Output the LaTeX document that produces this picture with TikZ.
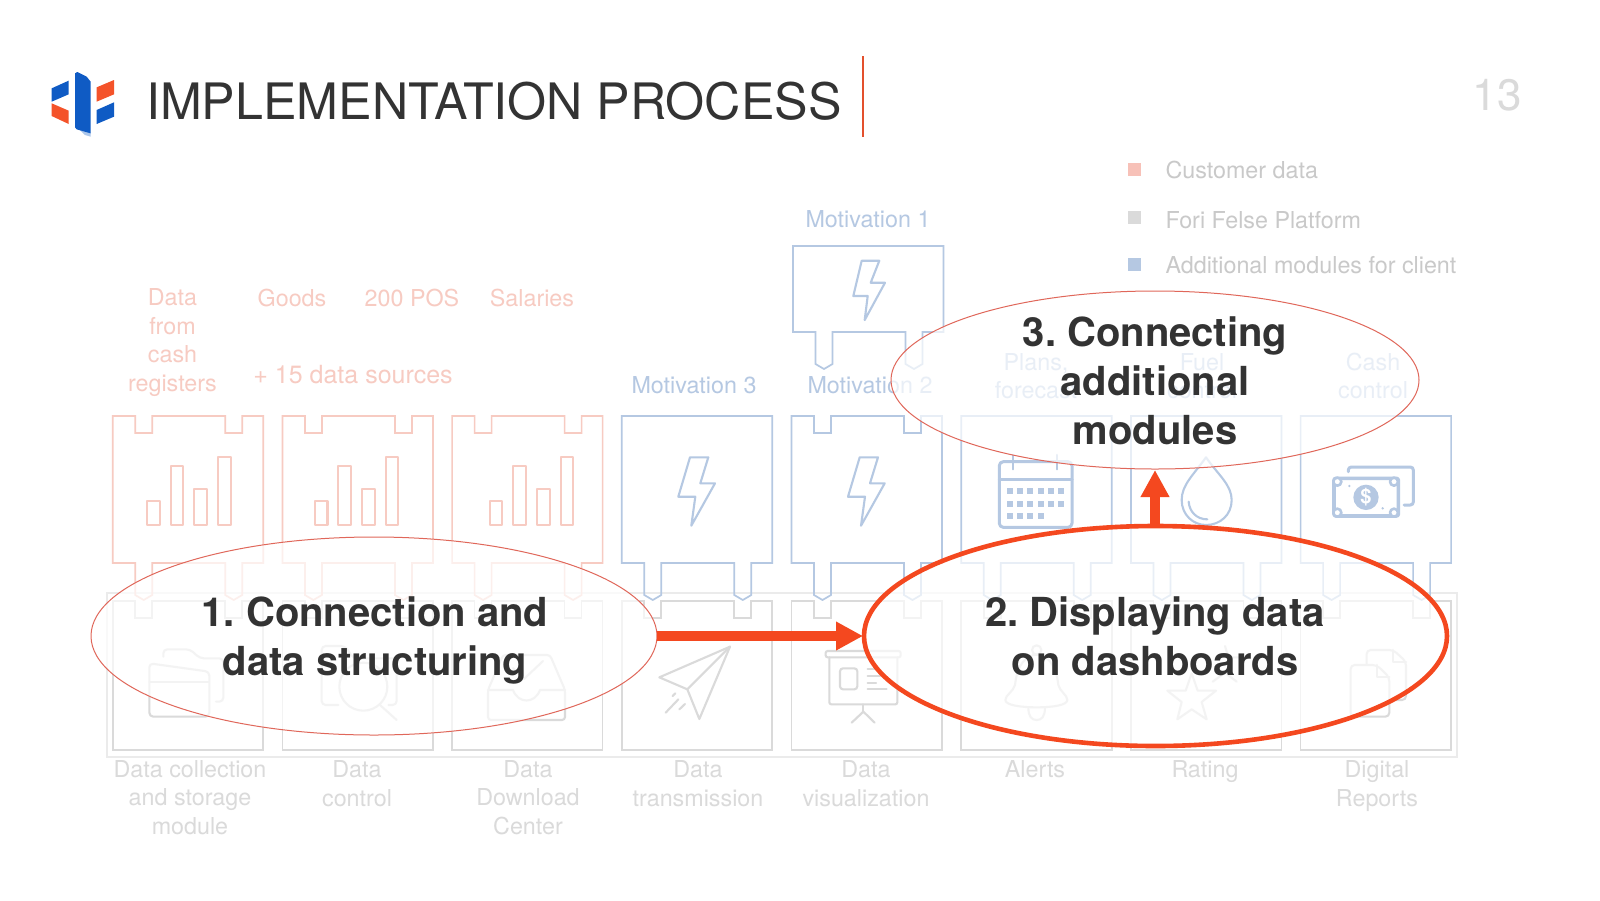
\documentclass[tikz,border=0pt]{standalone}
\usepackage{fontspec}
\setmainfont{TeX Gyre Heros}
\usetikzlibrary{shapes.geometric,arrows.meta}
\frenchspacing
\definecolor{cred}{HTML}{F7CBC2}
\definecolor{cblue}{HTML}{B5C8E2}
\definecolor{cgray}{HTML}{DADADA}
\definecolor{cframe}{HTML}{EBEBEB}
\definecolor{cacc}{HTML}{F4481F}
\definecolor{cthin}{HTML}{E0675A}
\definecolor{cdark}{HTML}{333333}
\definecolor{lgblue}{HTML}{0F5BC4}
\definecolor{lgorange}{HTML}{F4532A}
\definecolor{lgtext}{HTML}{C9C9C9}
\newcommand\topN{(0,0)--(22.5,0)--(22.5,17)--(39.5,17)--(39.5,0)--(112.5,0)--(112.5,17)--(129.5,17)--(129.5,0)--(150.5,0)}
\newcommand\topP{(0,0)--(150.5,0)}
\newcommand\botT[1]{--(150.5,#1)--(129.5,#1)--(129.5,#1+32)--(121,#1+37)--(112.5,#1+32)--(112.5,#1)--(39.5,#1)--(39.5,#1+32)--(31,#1+37)--(22.5,#1+32)--(22.5,#1)--(0,#1)--cycle}
\newcommand\bolt{(68.2,41.3)--(86.5,41.3)--(78.5,67.3)--(93.2,67.3)--(69.5,109.7)--(73.5,80.7)--(56.5,80.7)--cycle}
\tikzset{
  x=1pt,y=-1pt,
  boxline/.style={line width=1.7pt,line join=miter},
  icon/.style={line width=2.1pt,line join=round,line cap=round},
  zoomed/.style n args={2}{shift={(#1,#2)},x=0.33333pt,y=-0.33333pt},
  lab/.style={anchor=base,align=center,inner sep=0pt,outer sep=0pt,font=\fontsize{23.3}{28.4}\selectfont},
  redlab/.style={lab,text=cred},
  bluelab/.style={lab,text=cblue},
  graylab/.style={lab,text=cgray},
  legendlab/.style={lab,anchor=base west,text=lgtext},
  legendsq/.style={minimum size=13pt,inner sep=0pt,outer sep=0pt,anchor=north west},
  oval/.style={ellipse,inner sep=0pt,outer sep=0pt,fill=white,fill opacity=0.7,text opacity=1},
  boldlab/.style={anchor=base,align=center,inner sep=0pt,outer sep=0pt,text=cdark,font=\fontsize{40}{48.7}\selectfont\bfseries},
  flow/.style={draw=cacc,line width=10.5pt,-{Triangle[length=27pt,width=27pt]}},
}
\begin{document}
\begin{tikzpicture}[x=1pt,y=-1pt]
\useasboundingbox (0,0) rectangle (1600,900);
\fill[white] (0,0) rectangle (1600,900);

% logo
\begin{scope}[zoomed={30}{40}]
\fill[lgblue] (65,145)--(116,122)--(116,163)--(65,185)--cycle;
\fill[lgorange] (65,190)--(116,212)--(116,252)--(65,228)--cycle;
\fill[lgblue!35] (150,270)--(182,278)--(182,290)--(165,285)--cycle;
\fill[lgblue] (135,100)--(142,96)--(170,110)--(182,125)--(182,280)--(140,268)--(135,262)--cycle;
\fill[lgorange] (200,142)--(252,120)--(252,163)--(200,185)--cycle;
\fill[lgblue] (200,210)--(252,187)--(252,230)--(200,252)--cycle;
\end{scope}

\node[anchor=base west,inner sep=0pt,text=cdark,font=\fontsize{50.2}{60}\selectfont] (title) at (146,119) {IMPLEMENTATION PROCESS};
\draw[line width=1.5pt,color=cacc!85!gray] (863,56) -- (863,137);
\node[anchor=base,inner sep=0pt,text=cgray,font=\fontsize{44}{50}\selectfont] (page) at (1497,110) {13};

% legend
\node[legendsq,fill=cred!95!red] (sq1) at (1128,163) {};
\node[legendsq,fill=cgray] (sq2) at (1128,211) {};
\node[legendsq,fill=cblue] (sq3) at (1128,258) {};
\node[legendlab] (leg1) at (1165.5,178) {Customer data};
\node[legendlab] (leg2) at (1165.5,228) {Fori Felse Platform};
\node[legendlab] (leg3) at (1165.5,273) {Additional modules for client};

% frame around the platform row
\draw[cframe,line width=1.5pt] (107,593) rectangle (1457,757);

% lower row boxes
\foreach \x in {112.7,282.4,452.1,621.8,791.5,961.2,1130.9,1300.6}{
  \begin{scope}[shift={(\x,600.7)}]
  \draw[cgray,boxline] \topN --(150.5,149.5)--(0,149.5)--cycle;
  \end{scope}
}
% upper row boxes
\foreach \x/\c in {112.7/cred,282.4/cred,452.1/cred,791.5/cblue}{
  \begin{scope}[shift={(\x,416)}]
  \draw[\c,boxline] \topN \botT{147};
  \end{scope}
}
\foreach \x in {621.8,961.2,1130.9,1300.6}{
  \begin{scope}[shift={(\x,416)}]
  \draw[cblue,boxline] \topP \botT{147};
  \end{scope}
}
\begin{scope}[shift={(621.8,416)}]
\draw[cblue,icon] \bolt;
\end{scope}
\begin{scope}[shift={(791.5,416)}]
\draw[cblue,icon] \bolt;
\end{scope}
\begin{scope}[shift={(793,246)}]
\draw[cblue,boxline] \topP \botT{86};
\draw[cblue,icon] (68.7,14.7)--(86.3,14.7)--(77.7,36.7)--(92,36.7)--(71.7,74)--(74.7,50)--(60.3,50)--cycle;
\end{scope}

% bars
\foreach \x in {147.3,315,489.6}{
  \begin{scope}[shift={(\x,525)}]
  \draw[cred,icon] (0,0) rectangle (12.5,-24.3);
  \draw[cred,icon] (23.4,0) rectangle (36,-59.3);
  \draw[cred,icon] (47,0) rectangle (60,-36);
  \draw[cred,icon] (71,0) rectangle (83.4,-67.7);
  \end{scope}
}

% folder
\begin{scope}[zoomed={90}{400}]
\draw[cgray,icon,rounded corners=4pt] (178,950)--(178,790)--(358,815)--(358,950)--cycle;
\draw[cgray,icon] (178,845)--(358,845);
\draw[cgray,icon,rounded corners=4pt] (220,770)--(220,748)--(300,748)--(330,775)--(400,775)--(400,905)--(378,905);
% magnifier
\draw[cgray,icon,rounded corners=4pt] (745,915)--(695,915)--(695,738)--(765,738)--(790,775)--(920,775)--(920,915)--(895,915);
\draw[cgray,icon] (820,860) circle[radius=72];
\draw[cgray,icon] (870,915)--(920,960);
\end{scope}

% inbox
\draw[cgray,icon,rounded corners=3pt] (488,690)--(488,720)--(565,720)--(565,690)--(550,655)--(503,655)--cycle;
\draw[cgray,icon] (488,690)--(513,690) .. controls (518,704) and (535,704) .. (540,690)--(565,690);
\draw[cgray,icon] (513,668)--(524,679)--(543,661);

% plane and presentation
\begin{scope}[zoomed={600}{570}]
\draw[cgray,icon] (390,230)--(178,322)--(262,358)--(298,447)--cycle;
\draw[cgray,icon] (390,230)--(262,358);
\draw[cgray,icon] (218,378)--(226,370);
\draw[cgray,icon] (197,428)--(235,388);
\draw[cgray,icon] (238,418)--(255,402);
\draw[cgray,icon,rounded corners=2pt] (677,243) rectangle (902,262);
\draw[cgray,icon,rounded corners=2pt] (688,262)--(688,403)--(892,403)--(892,262);
\draw[cgray,icon,rounded corners=3pt] (720,295) rectangle (772,358);
\draw[cgray,icon] (803,296)--(835,296);
\draw[cgray,icon] (803,318)--(840,318);
\draw[cgray,icon] (803,338)--(828,338);
\draw[cgray,icon] (803,358)--(860,358);
\draw[cgray,icon] (790,403)--(790,425);
\draw[cgray,icon] (755,458)--(790,425)--(824,458);
\end{scope}

% calendar, drop, money
\begin{scope}[zoomed={930}{400}]
\draw[cblue,icon,line width=3pt,rounded corners=4pt] (208,185) rectangle (426,382);
\draw[cblue,icon,line width=3pt] (208,238)--(426,238);
\draw[cblue,icon] (248,165)--(248,208);
\draw[cblue,icon] (382,165)--(382,208);
\foreach \cx in {230,261,292,323,354,385}{
  \fill[cblue] (\cx,265) rectangle ++(18,18);
  \fill[cblue] (\cx,302) rectangle ++(18,18);
}
\foreach \cx in {230,261,292,323}{
  \fill[cblue] (\cx,338) rectangle ++(18,18);
}
\draw[cblue,icon] (828,172) .. controls (790,225) and (755,255) .. (755,300) .. controls (755,345) and (790,375) .. (828,375) .. controls (870,375) and (905,345) .. (905,300) .. controls (905,255) and (865,225) .. (828,172) -- cycle;
\draw[cblue,icon] (776,305) .. controls (778,335) and (800,358) .. (832,358);
\draw[cblue,icon,line width=3pt,rounded corners=3pt] (1255,215)--(1255,201)--(1450,201)--(1450,315)--(1422,315);
\draw[cblue,icon,line width=3.6pt,rounded corners=2pt] (1212,235) rectangle (1405,348);
\foreach \cx/\cy in {1222/245,1392/245,1222/338,1392/338}{
  \draw[cblue,icon,fill=white,line width=2.6pt] (\cx,\cy) circle[radius=12];
}
\fill[cblue] (1308,292) circle[radius=38];
\node[inner sep=0pt,text=white,font=\fontsize{20}{20}\selectfont\bfseries] (dollar) at (1308,292) {\$};
\fill[cblue] (1258,258) circle[radius=4];
\fill[cblue] (1358,325) circle[radius=4];
\end{scope}

% bell, star, documents
\begin{scope}[zoomed={930}{570}]
\draw[cgray,icon] (320,240) circle[radius=14];
\draw[cgray,icon] (255,345) .. controls (262,280) and (290,255) .. (320,254) .. controls (350,255) and (378,280) .. (385,345) .. controls (390,365) and (412,375) .. (412,390) .. controls (412,405) and (370,412) .. (320,412) .. controls (270,412) and (226,405) .. (226,390) .. controls (226,375) and (250,365) .. (255,345) -- cycle;
\draw[cgray,icon] (295,412) .. controls (295,440) and (305,450) .. (320,450) .. controls (335,450) and (345,440) .. (345,412);
\draw[cgray,icon] (785,310)--(803,362)--(858,362)--(815,396)--(830,448)--(785,418)--(742,448)--(755,396)--(712,362)--(767,362)--cycle;
\draw[cgray,icon] (848,335)--(885,308)--(920,335);
\draw[cgray,icon] (885,228)--(895,262)--(930,262);
\draw[cgray,icon,rounded corners=4pt] (1310,285)--(1310,240)--(1390,240)--(1428,275)--(1428,390)--(1380,390);
\draw[cgray,icon] (1390,240)--(1390,275)--(1428,275);
\draw[cgray,icon,rounded corners=4pt] (1262,440)--(1262,285)--(1340,285)--(1378,322)--(1378,440)--cycle;
\draw[cgray,icon] (1340,285)--(1340,322)--(1378,322);
\end{scope}

% source labels
\node[redlab] (s1) at (172.5,391) {Data\\from\\cash\\registers};
\node[redlab] (s2) at (292,306) {Goods};
\node[redlab] (s3) at (412,306) {200 POS};
\node[redlab] (s4) at (532,306) {Salaries};
\node[redlab,font=\fontsize{25}{28.4}\selectfont] (s5) at (353,383.5) {+ 15 data sources};
\node[bluelab] (m1) at (868,227) {Motivation 1};
\node[bluelab] (m3) at (694,393) {Motivation 3};
\node[bluelab] (m2) at (870,393) {Motivation 2};
\node[bluelab] (a1) at (1036,398.5) {Plans,\\forecast};
\node[bluelab] (a2) at (1202,398.5) {Fuel\\control};
\node[bluelab] (a3) at (1373,398.5) {Cash\\control};
% platform labels
\node[graylab] (p1) at (190,834) {Data collection\\and storage\\module};
\node[graylab] (p2) at (357,806) {Data\\control};
\node[graylab] (p3) at (528,834) {Data\\Download\\Center};
\node[graylab] (p4) at (698,806) {Data\\transmission};
\node[graylab] (p5) at (866,806) {Data\\visualization};
\node[graylab] (p6) at (1035,777) {Alerts};
\node[graylab] (p7) at (1205,777) {Rating};
\node[graylab] (p8) at (1377,806) {Digital\\Reports};

% ovals
\node[oval,draw=cthin,line width=1pt,minimum width=566pt,minimum height=198pt] (e1) at (374,636) {};
\node[oval,draw=cacc,line width=4.6pt,minimum width=583pt,minimum height=220pt] (e2) at (1155.5,636) {};
\node[oval,draw=cthin,line width=1pt,minimum width=528pt,minimum height=178pt] (e3) at (1155,380) {};

\node[boldlab] (t1) at (375,675) {1. Connection and\\data structuring};
\node[boldlab] (t2) at (1155,675) {2. Displaying data\\on dashboards};
\node[boldlab] (t3) at (1155,444) {3. Connecting\\additional\\modules};

\draw[flow,shorten >=1pt] (e1.east) -- (e2.west);
\draw[flow,shorten >=1pt] (e2.north -| e3.south) -- (e3.south);
\end{tikzpicture}
\end{document}
